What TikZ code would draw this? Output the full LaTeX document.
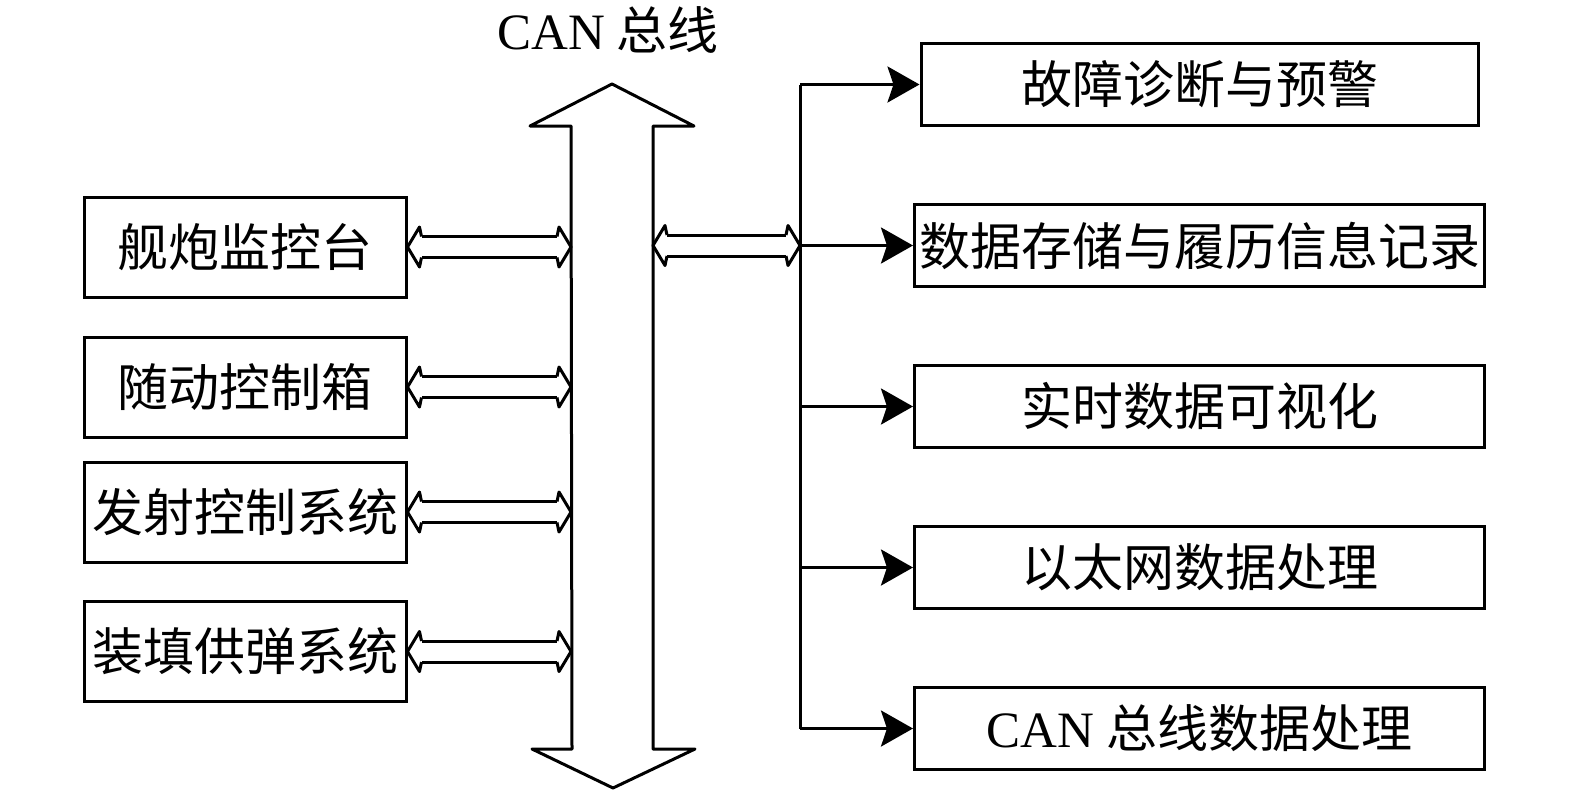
\documentclass[tikz,border=0pt]{standalone}
\usepackage{fontspec}
\setmainfont{Liberation Serif}
\newfontfamily\cjk{Noto Sans CJK SC}
\usepackage{tikz}
\usetikzlibrary{positioning, arrows.meta, calc}

% hollow double-headed link between two points on one row
\newcommand{\busLink}[2]{%
    \draw[double, double distance=9pt, shorten <=7pt, shorten >=7pt] (#1) -- (#2);
    \draw[line join=round] ($(#1)+(7pt,5.25pt)$) -- ($(#1)+(6pt,10pt)$) -- (#1)
        -- ($(#1)+(6pt,-10pt)$) -- ($(#1)+(7pt,-5.25pt)$);
    \draw[line join=round] ($(#2)+(-7pt,5.25pt)$) -- ($(#2)+(-6pt,10pt)$) -- (#2)
        -- ($(#2)+(-6pt,-10pt)$) -- ($(#2)+(-7pt,-5.25pt)$);
}

\begin{document}
\begin{tikzpicture}[x=0.5pt, y=-0.5pt, line width=1.5pt,
    unit/.style={rectangle, draw, minimum width=161pt, minimum height=50pt, inner sep=0pt, font=\fontsize{25.5}{30}\selectfont\cjk},
    task/.style={rectangle, draw, minimum width=285pt, minimum height=41pt, inner sep=0pt, font=\fontsize{25.5}{30}\selectfont\cjk},
    feed/.style={-{Stealth[length=16pt, width=18pt, inset=3pt]}}]
    \useasboundingbox (0,0) rectangle (1575,793);

    % CAN bus
    \draw[line join=round] (612,84) -- (694,126) -- (653,126) -- (653,749) -- (695,749) -- (613,788)
        -- (532,749) -- (572,749) -- (571,126) -- (530,126) -- cycle;
    \node (bus) at (608,30) [font=\fontsize{25.5}{30}\selectfont\cjk] {{\rmfamily CAN} 总线};
    \coordinate (busL) at (571,0);
    \coordinate (busR) at (653,0);
    \coordinate (spine) at (800,0);

    % devices on the bus
    \node (u1) at (245,247) [unit] {舰炮监控台};
    \node (u2) [unit, below of=u1, node distance=70pt] {随动控制箱};
    \node (u3) [unit, below of=u2, node distance=62.5pt] {发射控制系统};
    \node (u4) [unit, below of=u3, node distance=69.75pt] {装填供弹系统};

    % software functions
    \node (r1) at (1199.5,84.5) [task, minimum width=278.5pt] {故障诊断与预警};
    \node (r2) [task, below of=r1, node distance=80.5pt] {数据存储与履历信息记录};
    \node (r3) [task, below of=r2, node distance=80.5pt] {实时数据可视化};
    \node (r4) [task, below of=r3, node distance=80.5pt] {以太网数据处理};
    \node (r5) [task, below of=r4, node distance=80.5pt] {{\rmfamily CAN} 总线数据处理};

    \foreach \i in {1,...,4} {
        \busLink{u\i.east}{u\i.east -| busL}
    }
    \busLink{busR |- r2.west}{spine |- r2.west}

    \draw (spine |- r1.west) -- (spine |- r5.west);
    \foreach \i in {1,...,5}
        \draw[feed] (spine |- r\i.west) -- (r\i.west);
\end{tikzpicture}
\end{document}
